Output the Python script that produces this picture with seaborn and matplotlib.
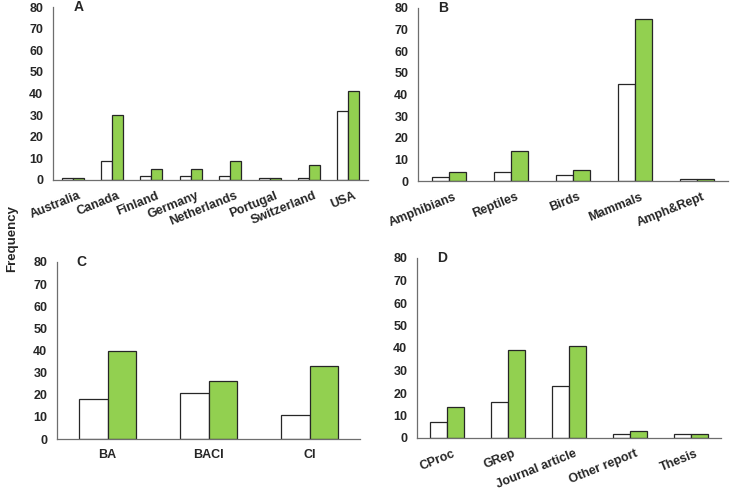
"""Four-panel grouped bar chart of study frequencies (panels A-D)."""

import matplotlib

matplotlib.use("Agg")
import matplotlib.pyplot as plt
import matplotlib.transforms as mtransforms
import numpy as np
import pandas as pd
import seaborn as sns

# panel A: country
countries = ["Australia", "Canada", "Finland", "Germany", "Netherlands",
             "Portugal", "Switzerland", "USA"]
countries_white = [1, 9, 2, 2, 2, 1, 1, 32]
countries_green = [1, 30, 5, 5, 9, 1, 7, 41]

# panel B: taxon
taxa = ["Amphibians", "Reptiles", "Birds", "Mammals", "Amph&Rept"]
taxa_white = [2, 4, 3, 45, 1]
taxa_green = [4, 14, 5, 75, 1]

# panel C: design
designs = ["BA", "BACI", "CI"]
designs_white = [18, 21, 11]
designs_green = [40, 26, 33]

# panel D: publication type
pubtypes = ["CProc", "GRep", "Journal article", "Other report", "Thesis"]
pubtypes_white = [7, 16, 23, 2, 2]
pubtypes_green = [14, 39, 41, 3, 2]

GREEN = "#92D050"
AXIS_COLOR = "#6e6e6e"


def to_long(categories, white, green):
    """Build a long-form frame for seaborn's hue grouping."""
    return pd.DataFrame(
        {
            "category": categories * 2,
            "value": white + green,
            "series": ["white"] * len(categories) + ["green"] * len(categories),
        }
    )


def draw_panel(fig, ax, categories, white, green, letter, rotate):
    frame = to_long(categories, white, green)
    sns.barplot(
        data=frame,
        x="category",
        y="value",
        hue="series",
        hue_order=["white", "green"],
        palette=["white", GREEN],
        saturation=1,
        width=0.56,
        gap=0,
        edgecolor="#262626",
        linewidth=0.9,
        legend=False,
        ax=ax,
    )
    n = len(categories)
    ax.set_xlim(-0.5, n - 0.5)
    ax.set_ylim(0, 80)
    ax.set_yticks(np.arange(0, 81, 10))
    ax.set_xticks(np.arange(-0.5, n, 1), minor=True)
    ax.tick_params(axis="x", which="major", length=0, pad=7, labelsize=9)
    ax.tick_params(axis="x", which="minor", length=4, width=0.9,
                   color=AXIS_COLOR, direction="out")
    ax.tick_params(axis="y", length=4, width=0.9, color=AXIS_COLOR,
                   direction="out", pad=3, labelsize=9)
    if rotate:
        # nudge rotated labels a little right, like the original
        shift = mtransforms.ScaledTranslation(5 / 100, 0, fig.dpi_scale_trans)
        for label in ax.get_xticklabels():
            label.set_rotation(22)
            label.set_ha("right")
            label.set_va("top")
            label.set_rotation_mode("anchor")
            label.set_transform(label.get_transform() + shift)
    ax.set_xlabel("")
    ax.set_ylabel("")
    for side in ("top", "right"):
        ax.spines[side].set_visible(False)
    for side in ("left", "bottom"):
        ax.spines[side].set_color(AXIS_COLOR)
        ax.spines[side].set_linewidth(0.9)
    ax.text(0.065, 1.0, letter, transform=ax.transAxes, fontsize=10,
            fontweight="bold", ha="left", va="center")


def main() -> None:
    sns.set_style("white")
    plt.rcParams["font.family"] = ["Liberation Sans", "DejaVu Sans"]
    plt.rcParams["font.weight"] = "bold"

    fig = plt.figure(figsize=(7.31, 4.90), dpi=100)
    W, H = 731, 490

    def rect(x0, y0, x1, y1):
        return [x0 / W, 1 - y1 / H, (x1 - x0) / W, (y1 - y0) / H]

    ax_a = fig.add_axes(rect(53, 7, 368, 180))
    ax_b = fig.add_axes(rect(418, 8, 728, 181))
    ax_c = fig.add_axes(rect(57, 262, 360, 439))
    ax_d = fig.add_axes(rect(417, 258, 721, 438))

    draw_panel(fig, ax_a, countries, countries_white, countries_green, "A", True)
    draw_panel(fig, ax_b, taxa, taxa_white, taxa_green, "B", True)
    draw_panel(fig, ax_c, designs, designs_white, designs_green, "C", False)
    draw_panel(fig, ax_d, pubtypes, pubtypes_white, pubtypes_green, "D", True)

    fig.text(12 / W, 1 - 238 / H, "Frequency", rotation=90, fontsize=9.5,
             fontweight="bold", ha="center", va="center")

    fig.savefig("out.png", dpi=100, facecolor="white")
    plt.close(fig)


if __name__ == "__main__":
    main()
